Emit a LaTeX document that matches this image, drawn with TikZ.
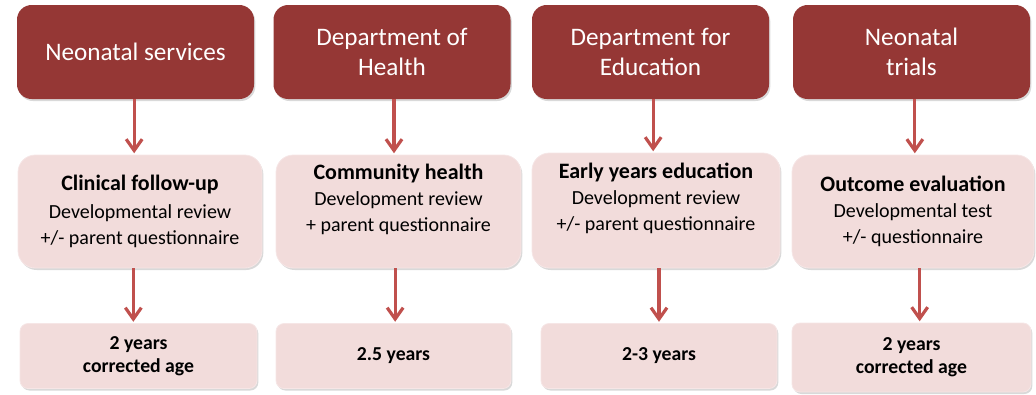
\documentclass[tikz,border=0pt]{standalone}
\usepackage{fontspec}
\setmainfont{Carlito}
\usetikzlibrary{arrows.meta,shadows}

\definecolor{headred}{HTML}{953735}
\definecolor{boxpink}{HTML}{F2DCDB}
\definecolor{arrowred}{HTML}{C0504D}

\begin{document}
\begin{tikzpicture}[x=0.75pt,y=-0.75pt,
    headbox/.style={rectangle,rounded corners=11pt,fill=headred,text=white,
        minimum width=177.75pt,minimum height=70.5pt,align=center,
        font=\fontsize{18.9}{22.5}\selectfont,
        drop shadow={opacity=0.3,shadow xshift=1pt,shadow yshift=-1.5pt}},
    infobox/.style={rectangle,rounded corners=13pt,fill=boxpink,draw=boxpink!70!white,
        line width=0.6pt,minimum height=84.75pt,align=center,
        font=\fontsize{15}{19.5}\selectfont,
        drop shadow={opacity=0.3,shadow xshift=1pt,shadow yshift=-1.5pt}},
    agebox/.style={rectangle,rounded corners=6pt,fill=boxpink,draw=boxpink!70!white,
        line width=0.6pt,minimum height=48.75pt,align=center,
        font=\fontsize{14.8}{17.4}\selectfont\bfseries,
        drop shadow={opacity=0.3,shadow xshift=1pt,shadow yshift=-1.5pt}},
    arr/.style={draw=arrowred,line width=2.4pt,
        -{Straight Barb[length=8.5pt,width=12pt]},shorten >=1pt}]

    \useasboundingbox (0,0) rectangle (1036,394);

    % who does the follow-up
    \node[headbox] (nhs) at (135.5,52) {Neonatal services};
    \node[headbox] (doh) at (392,52) {Department of\\Health};
    \node[headbox] (dfe) at (650.5,52) {Department for\\Education};
    \node[headbox] (trials) at (911.5,52) {Neonatal\\trials};

    % what kind of assessment
    \node[infobox,minimum width=183pt] (clinic) at (140,211.5)
        {{\fontsize{16.5}{19.5}\selectfont\bfseries Clinical follow-up}\\[2pt]
         Developmental review\\+/- parent questionnaire};
    \node[infobox,minimum width=183.75pt] (community) at (398.5,211.5)
        {{\fontsize{16.5}{19.5}\selectfont\bfseries Community health}\\
         Development review\\+ parent questionnaire\\[1pt]};
    \node[infobox,minimum width=186pt,minimum height=86.25pt] (earlyyears) at (656,210.5)
        {{\fontsize{16.5}{19.5}\selectfont\bfseries Early years education}\\
         Development review\\+/- parent questionnaire\\[1pt]};
    \node[infobox,minimum width=181.5pt] (outcome) at (913,211.5)
        {{\fontsize{16.5}{19.5}\selectfont\bfseries Outcome evaluation}\\
         Developmental test\\+/- questionnaire};

    % age at assessment
    \node[agebox,minimum width=177.75pt] (age1) at (138.5,356) {2 years\\corrected age};
    \node[agebox,minimum width=176.25pt] (age2) at (393.5,356) {2.5 years};
    \node[agebox,minimum width=177pt] (age3) at (659,356) {2-3 years};
    \node[agebox,minimum width=179.25pt,minimum height=51.75pt] (age4) at (911.5,357.5)
        {2 years\\corrected age};

    % arrows
    \draw[arr] ([xshift=-1pt]nhs.south) -- ([xshift=-1pt]nhs.south |- clinic.north);
    \draw[arr] ([xshift=1.5pt]doh.south) -- ([xshift=1.5pt]doh.south |- community.north);
    \draw[arr] ([xshift=2pt]dfe.south) -- ([xshift=2pt]dfe.south |- earlyyears.north);
    \draw[arr] ([xshift=2.5pt]trials.south) -- ([xshift=2.5pt]trials.south |- outcome.north);

    \draw[arr] ([xshift=-5pt]clinic.south) -- ([xshift=-5pt]clinic.south |- age1.north);
    \draw[arr] ([xshift=-2.5pt]community.south) -- ([xshift=-2.5pt]community.south |- age2.north);
    \draw[arr] (age3.north |- earlyyears.south) -- (age3.north);
    \draw[arr] ([xshift=5pt]outcome.south) -- ([xshift=5pt]outcome.south |- age4.north);
\end{tikzpicture}
\end{document}
